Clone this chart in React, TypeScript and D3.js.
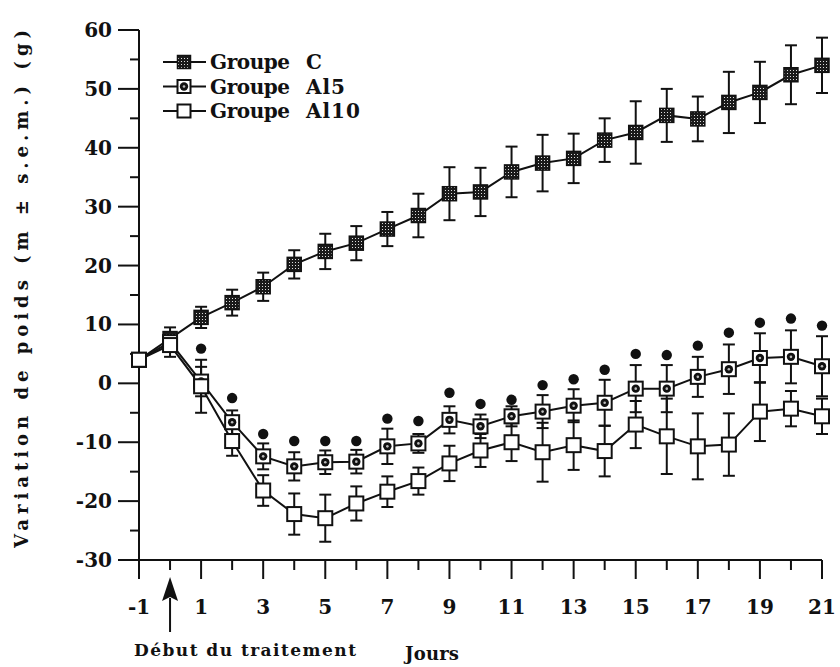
import React from "react";
import { scaleLinear, line as d3_line } from "d3";

// jours -1 .. 21
const days = [-1, 0, 1, 2, 3, 4, 5, 6, 7, 8, 9, 10, 11, 12, 13, 14, 15, 16, 17, 18, 19, 20, 21];

const groupC = [4, 7.6, 11.2, 13.7, 16.4, 20.2, 22.4, 23.8, 26.2, 28.5, 32.2, 32.5, 35.9, 37.4, 38.2, 41.3, 42.6, 45.5, 44.9, 47.7, 49.4, 52.4, 54.0];
const groupCErr = [1, 1.9, 1.8, 2.2, 2.4, 2.4, 3, 2.9, 2.9, 3.7, 4.5, 4.1, 4.3, 4.8, 4.2, 3.7, 5.3, 4.5, 3.8, 5.2, 5.2, 5, 4.7];

const groupAl5 = [4, 7, 0.3, -6.6, -12.4, -14.1, -13.4, -13.3, -10.7, -10.2, -6.2, -7.3, -5.6, -4.8, -3.8, -3.3, -0.9, -0.9, 1.1, 2.4, 4.3, 4.5, 2.9];
const groupAl5Err = [1, 1.5, 2.5, 2, 2.2, 2.4, 2, 2, 3, 1.6, 2.3, 2, 1.7, 2.8, 2.8, 3.9, 4, 4, 3.4, 4.2, 4.2, 4.5, 5.1];

const groupAl10 = [4, 6.5, -0.5, -9.8, -18.2, -22.2, -22.9, -20.4, -18.4, -16.6, -13.6, -11.4, -10, -11.7, -10.5, -11.5, -7, -9, -10.7, -10.4, -4.8, -4.3, -5.6];
const groupAl10Err = [1, 2, 4.5, 2.5, 2.6, 3.5, 4, 2.9, 2.6, 2.3, 3, 2.8, 3.2, 5, 4.2, 4.3, 4, 6.4, 5.6, 5.3, 5, 3, 3];

// points de significativité (Al5 vs C)
const sigDays = [1, 2, 3, 4, 5, 6, 7, 8, 9, 10, 11, 12, 13, 14, 15, 16, 17, 18, 19, 20, 21];
const sigValues = [5.9, -2.5, -8.6, -9.8, -9.8, -9.8, -6, -6.4, -1.6, -3.5, -2.8, -0.3, 0.7, 2.3, 5, 4.8, 6.4, 8.6, 10.3, 11, 9.8];

const xTickLabels = [-1, 1, 3, 5, 7, 9, 11, 13, 15, 17, 19, 21];
const yTickLabels = [60, 50, 40, 30, 20, 10, 0, -10, -20, -30];
const yMinorTicks = [55, 45, 35, 25, 15, 5, -5, -15, -25];

const legendNames = ["C", "Al5", "Al10"];

const FONT = "'DejaVu Serif', serif";

type Kind = "C" | "Al5" | "Al10";

const Marker: React.FC<{ kind: Kind; cx: number; cy: number; s?: number }> = ({ kind, cx, cy, s = 14 }) => {
    const h = s / 2;
    if (kind === "C") {
        return <rect x={cx - h} y={cy - h} width={s} height={s} fill="url(#speckle)" stroke="#111" strokeWidth={1.5} />;
    }
    if (kind === "Al5") {
        return (
            <g>
                <rect x={cx - h} y={cy - h} width={s} height={s} fill="#fff" stroke="#111" strokeWidth={2} />
                <circle cx={cx} cy={cy} r={4.2} fill="#111" />
                <circle cx={cx} cy={cy} r={1.3} fill="#bbb" />
            </g>
        );
    }
    return <rect x={cx - h} y={cy - h} width={s} height={s} fill="#fff" stroke="#111" strokeWidth={2} />;
};

export default function App() {
    const x = scaleLinear().domain([-1, 21]).range([139, 822]);
    const y = scaleLinear().domain([-30, 60]).range([560, 30]);

    const series: { kind: Kind; values: number[]; err: number[] }[] = [
        { kind: "C", values: groupC, err: groupCErr },
        { kind: "Al5", values: groupAl5, err: groupAl5Err },
        { kind: "Al10", values: groupAl10, err: groupAl10Err },
    ];

    const line = d3_line<number>()
        .x((_, i) => x(days[i]))
        .y((d) => y(d));

    const cap = 6;

    return (
        <div style={{ position: "absolute", left: 0, top: 0 }}>
            <svg width={840} height={667} style={{ display: "block", background: "#fff" }}>
                <defs>
                    <pattern id="speckle" width={3} height={3} patternUnits="userSpaceOnUse">
                        <rect width={3} height={3} fill="#1a1a1a" />
                        <rect x={1} y={1} width={1} height={1} fill="#ddd" />
                    </pattern>
                </defs>

                {/* Y axis */}
                <line x1={x(-1)} x2={x(-1)} y1={y(60)} y2={y(-30)} stroke="#111" strokeWidth={2} />
                {yTickLabels.map((v) => (
                    <g key={v}>
                        <line x1={x(-1) - 21} x2={x(-1)} y1={y(v)} y2={y(v)} stroke="#111" strokeWidth={2} />
                        <text x={112} y={y(v) + 7} textAnchor="end" fontFamily={FONT} fontWeight="bold" fontSize={20} fill="#111">
                            {v}
                        </text>
                    </g>
                ))}
                {yMinorTicks.map((v) => (
                    <line key={v} x1={x(-1) - 9} x2={x(-1)} y1={y(v)} y2={y(v)} stroke="#111" strokeWidth={2} />
                ))}

                {/* X axis */}
                <line x1={x(-1)} x2={x(21)} y1={y(-30)} y2={y(-30)} stroke="#111" strokeWidth={2} />
                {days.map((d) => (
                    <line
                        key={d}
                        x1={x(d)}
                        x2={x(d)}
                        y1={y(-30)}
                        y2={y(-30) + (Math.abs(d) % 2 === 1 ? 19 : 10)}
                        stroke="#111"
                        strokeWidth={2}
                    />
                ))}
                {xTickLabels.map((d) => (
                    <text key={d} x={x(d)} y={614} textAnchor="middle" fontFamily={FONT} fontWeight="bold" fontSize={20} fill="#111">
                        {d}
                    </text>
                ))}

                {/* Arrow: début du traitement */}
                <line x1={x(0)} x2={x(0)} y1={632} y2={598} stroke="#111" strokeWidth={2} />
                <path d={`M${x(0)},577 L${x(0) - 8},601 L${x(0)},597 L${x(0) + 8},601 Z`} fill="#111" />

                <text x={134} y={656} fontFamily={FONT} fontWeight="bold" fontSize={17} fill="#111" textLength={222} lengthAdjust="spacing">
                    Début du traitement
                </text>
                <text x={405} y={660} fontFamily={FONT} fontWeight="bold" fontSize={18} fill="#111" textLength={54} lengthAdjust="spacing">
                    Jours
                </text>

                {/* Y title */}
                <text
                    transform={`translate(28,289) rotate(-90)`}
                    textAnchor="middle"
                    fontFamily={FONT}
                    fontWeight="bold"
                    fontSize={18}
                    fill="#111"
                    textLength={518}
                    lengthAdjust="spacing"
                >
                    Variation de poids (m ± s.e.m.) (g)
                </text>

                {/* Lines */}
                {series.map((s) => (
                    <path key={s.kind} d={line(s.values) ?? ""} fill="none" stroke="#111" strokeWidth={2} />
                ))}

                {/* Error bars */}
                {series.map((s) =>
                    s.values.map((v, i) => {
                        const cx = x(days[i]);
                        const top = y(v + s.err[i]);
                        const bot = y(v - s.err[i]);
                        return (
                            <g key={`${s.kind}-e-${i}`} stroke="#111" strokeWidth={2}>
                                <line x1={cx} x2={cx} y1={top} y2={bot} />
                                <line x1={cx - cap} x2={cx + cap} y1={top} y2={top} />
                                <line x1={cx - cap} x2={cx + cap} y1={bot} y2={bot} />
                            </g>
                        );
                    })
                )}

                {/* Markers */}
                {series.map((s) =>
                    s.values.map((v, i) => <Marker key={`${s.kind}-m-${i}`} kind={s.kind} cx={x(days[i])} cy={y(v)} />)
                )}

                {/* Significance dots */}
                {sigDays.map((d, i) => (
                    <circle key={d} cx={x(d)} cy={y(sigValues[i])} r={5.2} fill="#111" />
                ))}

                {/* Legend */}
                {legendNames.map((name, i) => {
                    const ly = 62 + i * 24.5;
                    const kind: Kind = i === 0 ? "C" : i === 1 ? "Al5" : "Al10";
                    return (
                        <g key={name}>
                            <line x1={163} x2={206} y1={ly} y2={ly} stroke="#111" strokeWidth={2} />
                            <Marker kind={kind} cx={184} cy={ly} s={13} />
                            <text x={210} y={ly + 7} fontFamily={FONT} fontWeight="bold" fontSize={20} fill="#111" textLength={80} lengthAdjust="spacing">
                                Groupe
                            </text>
                            <text x={306} y={ly + 7} fontFamily={FONT} fontWeight="bold" fontSize={20} fill="#111" letterSpacing={1}>
                                {name}
                            </text>
                        </g>
                    );
                })}
            </svg>
        </div>
    );
}
